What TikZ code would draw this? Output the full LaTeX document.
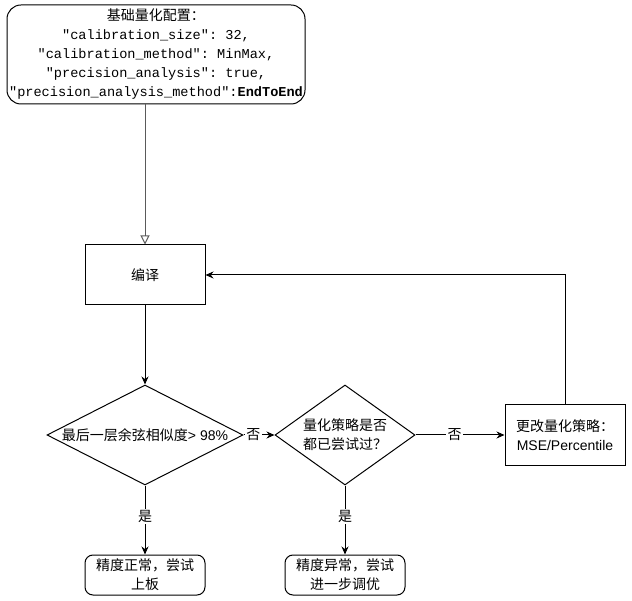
\documentclass[tikz,border=0pt]{standalone}
\usepackage{fontspec}
\setmainfont{Noto Sans CJK SC}
\setmonofont{Liberation Mono}
\newfontfamily\latin{Liberation Sans}
\usetikzlibrary{arrows.meta,shapes.geometric}
\definecolor{ink}{HTML}{000000}
\definecolor{wire}{HTML}{5A5A5A}

\begin{document}
\begin{tikzpicture}[x=1pt,y=-1pt,font=\fontsize{14}{19}\selectfont,line width=1pt,
  box/.style={draw=ink,minimum width=120,minimum height=60,align=center,inner sep=0pt},
  endbox/.style={box,rounded corners=8pt,minimum height=40},
  decision/.style={diamond,draw=ink,inner sep=0pt},
  flow/.style={-{Stealth[length=8pt,width=7pt]},draw=ink},
  lab/.style={fill=white,inner sep=1.5pt}]
  \useasboundingbox (0,0) rectangle (632,601);
  % start: settings
  \node[draw=ink,rounded corners=14pt,minimum width=298,minimum height=99,align=center,inner sep=0pt,
    font=\ttfamily\fontsize{13.6}{19}\selectfont] (cfg) at (156,54.5)
    {{\rmfamily\fontsize{14}{19}\selectfont 基础量化配置：}\\
     "calibration\_size": 32,\\
     "calibration\_method": MinMax,\\
     "precision\_analysis": true,\\
     "precision\_analysis\_method":\textbf{EndToEnd}};
  \node[box] (comp) at (145,275) {编译};
  \node[decision,minimum width=196,minimum height=100,
    label={center:{最后一层余弦相似度{\latin > 98\%}}}] (d1) at (145,435) {};
  \node[decision,minimum width=140,minimum height=100,
    label={[align=center]center:{量化策略是否\\都已尝试过？}}] (d2) at (345,435) {};
  \node[box] (chg) at (565,435) {更改量化策略：\\{\latin MSE/Percentile}};
  \node[endbox] (ok) at (145,575) {精度正常，尝试\\上板};
  \node[endbox] (bad) at (345,575) {精度异常，尝试\\进一步调优};
  % connectors
  \draw[-{Triangle[open,length=9pt,width=9pt]},draw=wire] (cfg.south -| comp.north) -- (comp.north);
  \draw[flow] (comp) -- (d1);
  \draw[flow] (d1) -- node[lab,pos=0.32]{否} (d2);
  \draw[flow] (d2) -- node[lab,pos=0.44]{否} (chg);
  \draw[flow] (chg) |- (comp);
  \foreach \from/\to in {d1/ok,d2/bad}
    \draw[flow] (\from) -- node[lab,pos=0.45]{是} (\to);
\end{tikzpicture}
\end{document}
